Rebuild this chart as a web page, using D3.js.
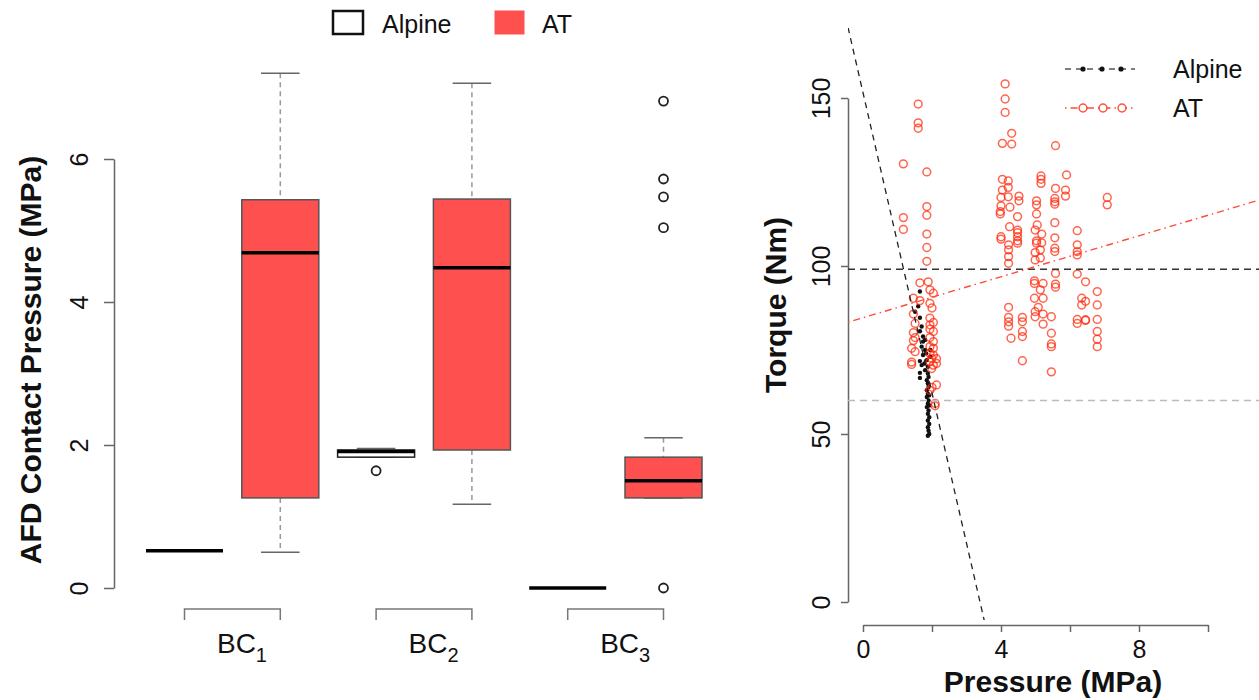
<html>
<head>
<meta charset="utf-8">
<title>AFD contact pressure and torque</title>
<script src="https://d3js.org/d3.v7.min.js"></script>
<style>
  body { margin: 0; background: #fff; }
  text { font-family: "Liberation Sans", Arial, sans-serif; fill: #111; }
</style>
</head>
<body>
<script>
// ---- left panel data: boxplot stats [lower whisker, q1, median, q3, upper whisker]
var groups = ["1", "2", "3"];
var alpineBox = [[0.52, 0.52, 0.52, 0.52, 0.52], [1.83, 1.83, 1.91, 1.93, 1.95], [0, 0, 0, 0, 0]];
var alpineOut = [[], [1.64], []];
var atBox = [[0.50, 1.26, 4.69, 5.43, 7.20], [1.17, 1.93, 4.48, 5.44, 7.06], [1.26, 1.26, 1.50, 1.83, 2.10]];
var atOut = [[], [], [6.81, 5.72, 5.47, 5.04, 0]];
var leftTicks = [0, 2, 4, 6];

// ---- right panel data: [pressure, torque]
var alpinePts = [[1.65,92.4],[1.51,86.4],[1.60,88.0],[1.65,84.6],[1.70,82.0],[1.65,80.6],[1.74,79.0],[1.74,77.5],
  [1.70,76.0],[1.80,75.0],[1.74,73.5],[1.65,71.7],[1.70,70.5],[1.65,68.2],[1.65,66.7],[1.80,69.0],[1.85,72.0],
  [1.88,70.0],[1.88,68.0],[1.90,67.0],[1.85,66.0],[1.88,65.0],[1.90,64.0],[1.85,63.0],[1.88,62.0],[1.92,61.5],
  [1.85,61.0],[1.90,60.0],[1.88,59.0],[1.92,58.5],[1.85,58.0],[1.90,57.0],[1.88,56.0],[1.92,55.0],[1.88,54.0],
  [1.92,53.0],[1.88,52.0],[1.90,51.0],[1.92,50.0],[1.88,49.5],[1.80,78.0],[1.83,74.0],[1.78,71.0],[1.95,75.0],[1.95,73.0]];
var atPts = [[1.60,148.2],[1.60,142.6],[1.60,141.0],[1.17,130.4],[1.85,128.0],[1.85,117.7],[1.85,115.1],[1.17,114.4],
  [1.17,110.9],[1.85,109.5],[1.85,105.5],[1.85,101.4],[1.65,95.0],[1.89,95.3],[1.94,92.9],[2.04,91.9],[1.46,90.4],
  [1.65,89.7],[1.94,88.9],[2.00,87.5],[1.46,85.7],[1.94,84.5],[2.04,83.2],[1.94,82.5],[1.51,82.9],[1.94,81.2],
  [2.04,80.5],[1.46,80.2],[1.51,78.7],[1.94,78.7],[2.04,77.5],[1.46,77.8],[1.94,76.0],[2.04,75.5],[1.41,75.5],
  [1.51,74.5],[1.94,74.0],[2.04,73.5],[1.99,72.5],[2.13,72.4],[1.94,71.5],[2.13,71.0],[2.04,70.5],[1.41,71.4],
  [1.41,70.7],[1.99,69.5],[2.13,64.6],[2.00,63.9],[1.94,63.0],[2.09,59.1],[2.09,58.4],
  [4.12,154.2],[4.12,149.7],[4.12,145.7],[4.31,139.5],[4.04,136.5],[4.31,136.3],[5.58,135.8],
  [4.04,125.8],[4.21,125.3],[5.16,126.8],[5.16,125.8],[5.16,124.6],[5.90,127.1],
  [4.04,122.6],[4.21,123.4],[4.21,120.6],[4.00,120.4],[4.00,117.9],[3.98,116.2],[3.98,115.5],[4.26,117.5],
  [4.52,120.8],[4.52,119.4],[5.03,119.4],[5.03,118.2],[5.03,115.5],[5.58,123.1],[5.56,120.1],[5.56,119.1],
  [5.56,118.4],[5.87,122.6],[5.87,120.8],[7.08,120.4],[7.08,118.2],
  [4.48,114.7],[4.25,111.7],[4.48,110.7],[4.48,109.9],[4.48,108.7],[4.48,107.5],[4.48,106.8],[4.00,108.7],[4.00,108.0],
  [5.05,112.2],[4.99,110.7],[5.18,109.5],[5.03,107.5],[5.03,106.8],[5.18,106.9],[5.56,112.9],[5.56,108.4],
  [5.56,105.3],[5.56,104.3],[6.21,110.5],[6.21,106.3],[6.21,104.3],[6.21,103.3],[4.22,106.3],[4.22,104.8],
  [4.22,102.8],[4.22,100.8],[4.99,104.0],[4.99,101.8],[5.14,104.8],[5.14,102.4],[5.58,97.8],[4.97,95.6],
  [4.97,94.8],[5.22,94.8],[5.58,94.6],[5.58,93.7],[6.21,97.6],[6.45,95.3],[4.97,90.4],[5.22,90.4],[5.14,92.9],
  [6.34,90.4],[6.34,88.4],[6.45,89.5],[6.79,92.4],[6.79,88.4],[6.79,84.1],[6.79,80.5],[6.79,78.2],[6.79,76.0],
  [4.22,87.7],[4.22,84.7],[4.22,83.4],[4.22,82.1],[4.29,78.5],[4.62,84.7],[4.62,83.4],[4.62,80.5],[4.62,79.0],
  [4.62,71.8],[4.99,86.4],[4.99,84.9],[5.08,87.7],[5.22,85.7],[5.22,82.7],[5.46,84.9],[5.46,80.0],[5.46,76.8],
  [5.46,76.0],[5.46,68.5],[6.21,84.1],[6.21,82.9],[6.45,84.0],[6.45,83.8]];
var alpineFit = [151.6, -44.7];   // intercept, slope
var atFit = [84.6, 3.05];
var refLines = [99, 60];
var rightYTicks = [0, 50, 100, 150];
var rightXTicks = [0, 2, 4, 6, 8, 10];
var rightXLabels = [0, 4, 8];

var red = "#ff5050";
var svg = d3.select("body").append("svg").attr("width", 1259).attr("height", 700);

// ================= left: boxplots =================
var xb = d3.scaleLinear().domain([1, 6]).range([184.5, 663.5]);
var yb = d3.scaleLinear().domain([0, 6]).range([588, 159]);
var bw = 77;

var yAxisL = svg.append("g").attr("transform", "translate(114,0)")
  .call(d3.axisLeft(yb).tickValues(leftTicks).tickFormat(d3.format("d")).tickSize(10).tickSizeOuter(0));
yAxisL.selectAll("path, line").attr("stroke", "#666").attr("stroke-width", 1.5);
yAxisL.selectAll("text").attr("x", 0).attr("dy", 0).attr("y", -26)
  .attr("text-anchor", "middle").attr("transform", "rotate(-90)")
  .style("font-size", "25px").style("font-family", "Liberation Sans, Arial, sans-serif").attr("fill", "#111");

svg.append("text").attr("transform", "translate(41,360) rotate(-90)")
  .attr("text-anchor", "middle").style("font-size", "30px").style("font-weight", "bold")
  .text("AFD Contact Pressure (MPa)");

function drawBox(pos, s, fill, border, outs) {
  var cx = xb(pos), g = svg.append("g");
  if (s[4] > s[3]) {
    g.append("line").attr("x1", cx).attr("x2", cx).attr("y1", yb(s[4])).attr("y2", yb(s[3]))
      .attr("stroke", "#999").attr("stroke-width", 1.5).attr("stroke-dasharray", "5,4");
  }
  if (s[0] < s[1]) {
    g.append("line").attr("x1", cx).attr("x2", cx).attr("y1", yb(s[1])).attr("y2", yb(s[0]))
      .attr("stroke", "#999").attr("stroke-width", 1.5).attr("stroke-dasharray", "5,4");
  }
  [s[0], s[4]].forEach(function (v) {
    g.append("line").attr("x1", cx - bw / 4).attr("x2", cx + bw / 4).attr("y1", yb(v)).attr("y2", yb(v))
      .attr("stroke", "#666").attr("stroke-width", 1.5);
  });
  g.append("rect").attr("x", cx - bw / 2).attr("width", bw)
    .attr("y", yb(s[3])).attr("height", Math.max(0, yb(s[1]) - yb(s[3])))
    .attr("fill", fill).attr("stroke", border).attr("stroke-width", 1.5);
  g.append("line").attr("x1", cx - bw / 2).attr("x2", cx + bw / 2).attr("y1", yb(s[2])).attr("y2", yb(s[2]))
    .attr("stroke", "#000").attr("stroke-width", 3.5);
  outs.forEach(function (v) {
    g.append("circle").attr("cx", cx).attr("cy", yb(v)).attr("r", 4.5)
      .attr("fill", "none").attr("stroke", "#222").attr("stroke-width", 1.8);
  });
}

groups.forEach(function (gname, i) {
  drawBox(2 * i + 1, alpineBox[i], "#fff", "#222", alpineOut[i]);
  drawBox(2 * i + 2, atBox[i], red, "#555", atOut[i]);
  var x1 = xb(2 * i + 1), x2 = xb(2 * i + 2);
  svg.append("path").attr("d", "M" + x1 + ",620V609H" + x2 + "V620")
    .attr("fill", "none").attr("stroke", "#777").attr("stroke-width", 1.5);
  var t = svg.append("text").attr("x", xb(2 * i + 1.6)).attr("y", 653)
    .attr("text-anchor", "middle").style("font-size", "28px");
  t.append("tspan").text("BC");
  t.append("tspan").attr("dy", 9).style("font-size", "20px").text(gname);
});

// legend left
svg.append("rect").attr("x", 333).attr("y", 11).attr("width", 30).attr("height", 23)
  .attr("fill", "#fff").attr("stroke", "#111").attr("stroke-width", 2.5);
svg.append("text").attr("x", 382).attr("y", 33).style("font-size", "25px").text("Alpine");
svg.append("rect").attr("x", 495).attr("y", 11).attr("width", 29).attr("height", 23)
  .attr("fill", red).attr("stroke", red).attr("stroke-width", 1);
svg.append("text").attr("x", 542).attr("y", 33).style("font-size", "25px").text("AT");

// ================= right: scatter =================
var xs = d3.scaleLinear().domain([0, 10]).range([863, 1208]);
var ys = d3.scaleLinear().domain([0, 150]).range([602, 98]);

svg.append("clipPath").attr("id", "plotclip").append("rect")
  .attr("x", 848).attr("y", 28).attr("width", 411).attr("height", 592);

var yAxisR = svg.append("g").attr("transform", "translate(848,0)")
  .call(d3.axisLeft(ys).tickValues(rightYTicks).tickFormat(d3.format("d")).tickSize(7).tickSizeOuter(0));
yAxisR.selectAll("path, line").attr("stroke", "#666").attr("stroke-width", 1.5);
yAxisR.selectAll("text").attr("x", 0).attr("dy", 0).attr("y", -18)
  .attr("text-anchor", "middle").attr("transform", "rotate(-90)")
  .style("font-size", "25px").style("font-family", "Liberation Sans, Arial, sans-serif").attr("fill", "#111");

var xAxisR = svg.append("g").attr("transform", "translate(0,625)")
  .call(d3.axisBottom(xs).tickValues(rightXTicks).tickSize(7).tickSizeOuter(0)
    .tickFormat(function (d) { return rightXLabels.indexOf(d) >= 0 ? d : ""; }));
xAxisR.selectAll("path, line").attr("stroke", "#666").attr("stroke-width", 1.5);
xAxisR.selectAll("text").attr("dy", 0).attr("y", 33)
  .style("font-size", "25px").style("font-family", "Liberation Sans, Arial, sans-serif").attr("fill", "#111");

svg.append("text").attr("transform", "translate(786,305) rotate(-90)")
  .attr("text-anchor", "middle").style("font-size", "30px").style("font-weight", "bold")
  .text("Torque (Nm)");
svg.append("text").attr("x", 1053).attr("y", 692)
  .attr("text-anchor", "middle").style("font-size", "30px").style("font-weight", "bold")
  .text("Pressure (MPa)");

var plot = svg.append("g").attr("clip-path", "url(#plotclip)");

plot.selectAll(".alp").data(alpinePts).enter().append("circle")
  .attr("cx", function (d) { return xs(d[0]); }).attr("cy", function (d) { return ys(d[1]); })
  .attr("r", 2.2).attr("fill", "#111");
plot.selectAll(".at").data(atPts).enter().append("circle")
  .attr("cx", function (d) { return xs(d[0]); }).attr("cy", function (d) { return ys(d[1]); })
  .attr("r", 3.9).attr("fill", "none").attr("stroke", "rgba(255,40,10,0.72)").attr("stroke-width", 1.5);

var xr = [xs.invert(848), xs.invert(1259)];
var line = d3.line().x(function (d) { return xs(d[0]); }).y(function (d) { return ys(d[1]); });

plot.append("path").attr("d", line([[xr[0], refLines[0]], [xr[1], refLines[0]]]))
  .attr("stroke", "#333").attr("stroke-width", 1.5).attr("stroke-dasharray", "7,5");
plot.append("path").attr("d", line([[xr[0], refLines[1]], [xr[1], refLines[1]]]))
  .attr("stroke", "#bbb").attr("stroke-width", 1.5).attr("stroke-dasharray", "7,5");
plot.append("path").attr("d", line(xr.map(function (x) { return [x, alpineFit[0] + alpineFit[1] * x]; })))
  .attr("stroke", "#222").attr("stroke-width", 1.3).attr("stroke-dasharray", "6,5");
plot.append("path").attr("d", line(xr.map(function (x) { return [x, atFit[0] + atFit[1] * x]; })))
  .attr("stroke", "#ff4a3a").attr("stroke-width", 1.4).attr("stroke-dasharray", "1.5,4,7,4");

// legend right
svg.append("line").attr("x1", 1065).attr("x2", 1135).attr("y1", 69).attr("y2", 69)
  .attr("stroke", "#555").attr("stroke-width", 1.3).attr("stroke-dasharray", "6,5");
[1083, 1102, 1121].forEach(function (x) {
  svg.append("circle").attr("cx", x).attr("cy", 69).attr("r", 2.6).attr("fill", "#111");
});
svg.append("text").attr("x", 1173).attr("y", 78).style("font-size", "25px").text("Alpine");
svg.append("line").attr("x1", 1065).attr("x2", 1135).attr("y1", 108).attr("y2", 108)
  .attr("stroke", "#ff4a3a").attr("stroke-width", 1.3).attr("stroke-dasharray", "1.5,4,7,4");
[1083, 1103, 1122].forEach(function (x) {
  svg.append("circle").attr("cx", x).attr("cy", 108).attr("r", 3.9).attr("fill", "#fff")
    .attr("stroke", "rgba(255,40,10,0.8)").attr("stroke-width", 1.5);
});
svg.append("text").attr("x", 1173).attr("y", 117).style("font-size", "25px").text("AT");
</script>
</body>
</html>
